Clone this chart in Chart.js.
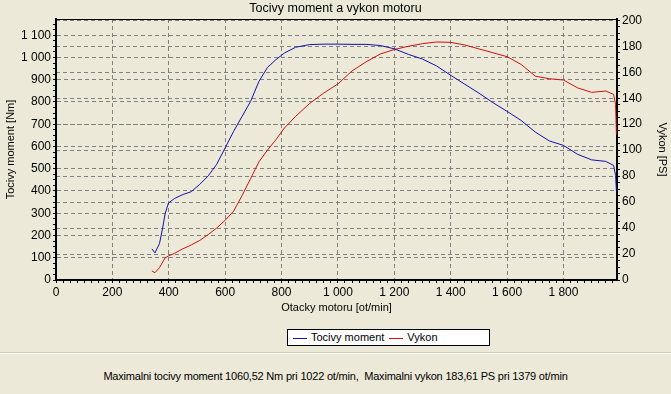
<!DOCTYPE html>
<html lang="cs">
<head>
<meta charset="UTF-8">
<title>Tocivy moment a vykon motoru</title>
<script src="https://cdn.jsdelivr.net/npm/chart.js"></script>
<style>
    body { margin: 0; background: #ECE9D8; font-family: "Liberation Sans", Arial, sans-serif; }
    #wrap { position: relative; width: 671px; height: 394px; overflow: hidden; }
    #legend {
        position: absolute; left: 287px; top: 329px; width: 201px; height: 15px;
        background: #fff; border: 1px solid #000; font-size: 11px; line-height: 15px;
        white-space: nowrap;
    }
    #legend span.sw { display: inline-block; width: 14px; height: 0; border-top: 1px solid; vertical-align: middle; margin: 0 4px 0 5px; }
    #sep { position: absolute; left: 0; top: 352px; width: 671px; height: 1px; background: #d0ccb8; border-bottom: 1px solid #fff; }
    #info { position: absolute; left: 0; top: 370px; width: 671px; text-align: center; font-size: 11px; letter-spacing: -0.2px; }
</style>
</head>
<body>
<div id="wrap">
    <canvas id="motorChart" width="671" height="320"></canvas>
    <div id="legend"></div>
    <div id="sep"></div>
    <div id="info">Maximalni tocivy moment 1060,52 Nm pri 1022 ot/min,&nbsp; Maximalni vykon 183,61 PS pri 1379 ot/min</div>
</div>

<script>
    // otacky [ot/min]
    const rpm = [340, 351, 367, 379, 387, 399, 420, 450, 480, 510, 540, 570, 600, 630, 660, 690, 720, 750, 780, 810,
                 850, 900, 950, 1000, 1050, 1100, 1150, 1200, 1250, 1300, 1350, 1400, 1450, 1500, 1550, 1600, 1650,
                 1700, 1750, 1800, 1850, 1900, 1950, 1978, 1985, 1988];
    // tocivy moment [Nm]
    const torque = [140, 122, 163, 238, 298, 346, 366, 384, 397, 430, 468, 520, 594, 668, 735, 802, 893, 955, 990, 1020,
                    1046, 1058, 1060, 1060, 1059, 1059, 1054, 1039, 1014, 993, 962, 920, 880, 840, 797, 758, 717,
                    665, 625, 605, 565, 540, 533, 515, 470, 400];
    // vykon [PS]
    const power = [7, 5.6, 9.5, 14, 17, 18.5, 20.5, 24, 27, 30.5, 35, 40, 46, 53, 65, 78, 91, 100, 108, 117,
                   126, 136, 144, 151, 161, 168, 174, 177.5, 180, 182, 183.3, 183, 181, 178, 175, 172, 166,
                   157, 155, 154, 148, 144.5, 145.5, 143, 135, 112];

    // popisky os (hlavni krok, vedlejsi krok, maximum popisku)
    const xTicks = { major: 200, minor: 25, last: 1975 };
    const torqueTicks = { major: 100, minor: 25, last: 1150 };
    const powerTicks = { major: 20, minor: 5, last: 200 };

    const seriesNames = ['Tocivy moment', 'Vykon'];
    const seriesColors = ['#1010b0', '#d01010'];

    function fmt(v) {
        if (v >= 1000) return Math.floor(v / 1000) + ' ' + String(v % 1000).padStart(3, '0');
        return String(v);
    }
    function isMajor(v, t) { return Math.abs(v % t.major) < 1e-6; }
    function useTicks(t) {
        return function(scale) {
            const list = [];
            for (let v = 0; v <= t.last; v += t.minor) list.push({ value: v });
            scale.ticks = list;
        };
    }
    function axisParts(t) {
        return {
            afterBuildTicks: useTicks(t),
            ticks: { padding: 2, maxRotation: 0, autoSkip: false, callback: v => isMajor(v, t) ? fmt(v) : '' },
            grid: {
                color: c => (c.tick && isMajor(c.tick.value, t)) ? '#808080' : 'rgba(0,0,0,0)',
                lineWidth: 1,
                tickLength: 3,
                tickColor: '#000'
            },
            border: { display: true, color: '#000', width: 2, dash: [4, 3] }
        };
    }

    // horni cara ramecku
    const framePlugin = {
        id: 'frame',
        afterDraw(chart) {
            const a = chart.chartArea, ctx = chart.ctx;
            ctx.save();
            ctx.strokeStyle = '#000';
            ctx.lineWidth = 1;
            ctx.beginPath();
            ctx.moveTo(a.left, a.top + 0.5);
            ctx.lineTo(a.right, a.top + 0.5);
            ctx.stroke();
            ctx.restore();
        }
    };

    Chart.defaults.color = '#000';
    Chart.defaults.font = { family: '"Liberation Sans", Arial, sans-serif', size: 12 };

    new Chart(document.getElementById('motorChart'), {
        type: 'line',
        data: {
            datasets: [
                {
                    label: seriesNames[0],
                    data: rpm.map((r, i) => ({ x: r, y: torque[i] })),
                    borderColor: seriesColors[0],
                    borderWidth: 1,
                    pointRadius: 0,
                    yAxisID: 'y'
                },
                {
                    label: seriesNames[1],
                    data: rpm.map((r, i) => ({ x: r, y: power[i] })),
                    borderColor: seriesColors[1],
                    borderWidth: 1,
                    pointRadius: 0,
                    yAxisID: 'y1'
                }
            ]
        },
        options: {
            responsive: false,
            animation: false,
            layout: { padding: 0 },
            plugins: {
                legend: { display: false },
                tooltip: { enabled: false },
                title: {
                    display: true,
                    text: 'Tocivy moment a vykon motoru',
                    font: { size: 12.5, weight: 'normal' },
                    color: '#000',
                    padding: { top: 1, bottom: 3 }
                }
            },
            scales: {
                x: Object.assign(axisParts(xTicks), {
                    type: 'linear',
                    min: 0,
                    max: 1990,
                    afterFit(scale) { scale.height = 40; },
                    title: { display: true, text: 'Otacky motoru [ot/min]', font: { size: 11 }, padding: { top: 0, bottom: 5 } }
                }),
                y: Object.assign(axisParts(torqueTicks), {
                    position: 'left',
                    min: 0,
                    max: 1173,
                    afterFit(scale) { scale.width = 56; },
                    title: { display: true, text: 'Tocivy moment [Nm]', font: { size: 11 }, padding: { top: 4, bottom: 0 } }
                }),
                y1: Object.assign(axisParts(powerTicks), {
                    position: 'right',
                    min: 0,
                    max: 201,
                    afterFit(scale) { scale.width = 54; },
                    title: { display: true, text: 'Vykon [PS]', font: { size: 11 }, padding: { top: 2, bottom: 0 } }
                })
            }
        },
        plugins: [framePlugin]
    });

    // legenda
    document.getElementById('legend').innerHTML = seriesNames.map((n, i) =>
        '<span class="sw" style="border-color:' + seriesColors[i] + '"></span>' + n
    ).join('');
</script>
</body>
</html>
